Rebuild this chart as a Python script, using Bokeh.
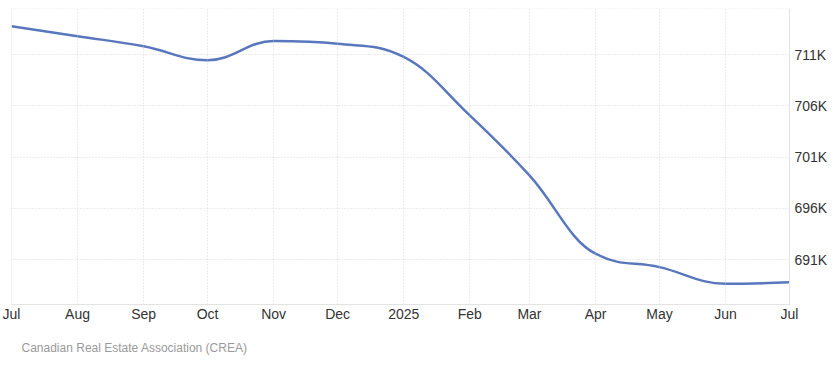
import datetime as dt
from bokeh.plotting import figure
from bokeh.models import (FixedTicker, CustomJSTickFormatter, Span, Title, Range1d,
                          ColumnDataSource)
from bokeh.embed import file_html
from bokeh.resources import INLINE

# ---- data ----
months = ["2024-07", "2024-08", "2024-09", "2024-10", "2024-11", "2024-12",
          "2025-01", "2025-02", "2025-03", "2025-04", "2025-05", "2025-06", "2025-07"]
prices = [713760, 712790, 711810, 710440, 712330, 712050,
          710770, 705080, 699220, 691590, 690280, 688660, 688810]
month_names = ["Jan", "Feb", "Mar", "Apr", "May", "Jun",
               "Jul", "Aug", "Sep", "Oct", "Nov", "Dec"]
y_ticks = [691000, 696000, 701000, 706000, 711000]
source_text = "Canadian Real Estate Association (CREA)"


def to_ms(s):
    y, m = s.split("-")
    return dt.datetime(int(y), int(m), 1, tzinfo=dt.timezone.utc).timestamp() * 1000.0


xs = [to_ms(m) for m in months]
ys = prices

# Highcharts-like spline control points (rendering of the line, not data)
n = len(xs)
lcx, lcy, rcx, rcy = list(xs), list(ys), list(xs), list(ys)
sm = 1.5
den = sm + 1
for i in range(1, n - 1):
    px, py = xs[i], ys[i]
    ax, ay = xs[i - 1], ys[i - 1]
    bx, by = xs[i + 1], ys[i + 1]
    l_x = (sm * px + ax) / den
    l_y = (sm * py + ay) / den
    r_x = (sm * px + bx) / den
    r_y = (sm * py + by) / den
    if r_x != l_x:
        corr = ((r_y - l_y) * (r_x - px)) / (r_x - l_x) + py - r_y
        l_y += corr
        r_y += corr
    if l_y > ay and l_y > py:
        l_y = max(ay, py)
        r_y = 2 * py - l_y
    elif l_y < ay and l_y < py:
        l_y = min(ay, py)
        r_y = 2 * py - l_y
    if r_y > by and r_y > py:
        r_y = max(by, py)
        l_y = 2 * py - r_y
    elif r_y < by and r_y < py:
        r_y = min(by, py)
        l_y = 2 * py - r_y
    lcx[i], lcy[i], rcx[i], rcy[i] = l_x, l_y, r_x, r_y

seg = ColumnDataSource(dict(
    x0=xs[:-1], y0=ys[:-1], x1=xs[1:], y1=ys[1:],
    cx0=rcx[:-1], cy0=rcy[:-1], cx1=lcx[1:], cy1=lcy[1:],
))

y_lo, y_hi = 686640, 715490

p = figure(width=834, height=368, output_backend="svg", toolbar_location=None,
           y_axis_location="right",
           x_range=Range1d(xs[0], xs[-1]), y_range=Range1d(y_lo, y_hi),
           min_border_left=11, min_border_right=45, min_border_top=8, min_border_bottom=64)
p.outline_line_color = None
p.background_fill_color = "white"
p.border_fill_color = "white"

p.bezier(x0="x0", y0="y0", x1="x1", y1="y1", cx0="cx0", cy0="cy0", cx1="cx1", cy1="cy1",
         source=seg, line_color="#5877bd", line_width=2.5)

# x axis
xa = p.xaxis[0]
xa.ticker = FixedTicker(ticks=xs)
xa.formatter = CustomJSTickFormatter(args=dict(names=month_names), code="""
const d = new Date(tick);
const m = d.getUTCMonth();
return m == 0 ? String(d.getUTCFullYear()) : names[m];
""")
xa.axis_line_color = "#e3e3e3"
xa.major_tick_line_color = None
xa.minor_tick_line_color = None
xa.major_tick_out = 0
xa.major_tick_in = 0
xa.minor_tick_out = 0
xa.minor_tick_in = 0
xa.major_label_text_font = "Liberation Sans"
xa.major_label_text_font_size = "14px"
xa.major_label_text_color = "#333333"
xa.major_label_standoff = 1

# y axis (right)
ya = p.yaxis[0]
ya.ticker = FixedTicker(ticks=y_ticks)
ya.formatter = CustomJSTickFormatter(code="return Math.round(tick/1000) + 'K';")
ya.axis_line_color = "#e3e3e3"
ya.major_tick_line_color = None
ya.minor_tick_line_color = None
ya.major_tick_out = 0
ya.major_tick_in = 0
ya.minor_tick_out = 0
ya.minor_tick_in = 0
ya.major_label_text_font = "Liberation Sans"
ya.major_label_text_font_size = "14px"
ya.major_label_text_color = "#333333"
ya.major_label_standoff = 5

# grids
p.xgrid.grid_line_color = "#d9d9d9"
p.xgrid.grid_line_dash = "1 2"
p.ygrid.grid_line_color = "#d9d9d9"
p.ygrid.grid_line_dash = "1 2"

p.add_layout(Span(location=y_hi, dimension="width", line_color="#d9d9d9",
                  line_dash="1 2", line_width=1))
p.add_layout(Span(location=xs[0], dimension="height", line_color="#e3e3e3", line_width=1))

p.add_layout(Title(text=source_text, align="left", text_font="Liberation Sans",
                   text_font_size="12px", text_font_style="normal",
                   text_color="#9a9a9a", offset=10, standoff=28), "below")

open("out.html", "w").write(file_html(p, INLINE))
